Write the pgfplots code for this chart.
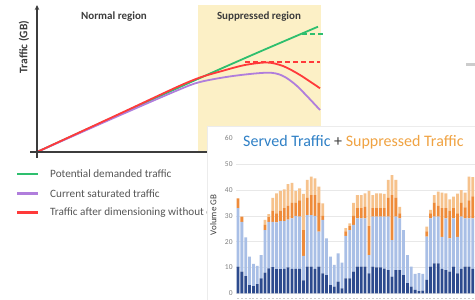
\documentclass[border=0pt]{standalone}
\usepackage{fontspec}
\setmainfont{Carlito}
\usepackage{pgfplots}
\pgfplotsset{compat=1.18}
\usepackage{pgfplotstable}
\usetikzlibrary{arrows.meta}

\definecolor{lgreen}{HTML}{2EBF6E}
\definecolor{lpurple}{HTML}{B07EDC}
\definecolor{lred}{HTML}{FF3A3A}
\definecolor{band}{HTML}{FCF0C6}
\definecolor{dblue}{HTML}{2D4B8E}
\definecolor{lblue}{HTML}{A9BFE6}
\definecolor{dorange}{HTML}{EE8B3A}
\definecolor{lorange}{HTML}{F6C28C}
\definecolor{tblue}{HTML}{2F80C6}
\definecolor{torange}{HTML}{F0A343}
\definecolor{txt}{HTML}{3C3C3C}
\definecolor{legtxt}{HTML}{555555}

\pgfplotstableread{
x db lb dko lo
0 10.3 22.7 3.8 0
1 8.4 19.3 2.0 0
2 6.7 15.0 0 0
3 3.2 11.0 0 0
4 2.8 8.6 0 0
5 3.6 7.0 0 0
6 5.8 9.0 0 0
7 8.0 16.5 2.0 1.9
8 9.7 18.0 1.8 1.2
9 10.1 17.6 4.3 5.0
10 9.4 18.1 3.5 7.7
11 9.4 18.6 4.0 7.7
12 9.5 18.5 5.0 7.3
13 10.0 18.5 5.5 8.3
14 9.5 19.5 6.0 7.8
15 9.5 20.5 5.0 4.7
16 9.5 20.2 6.3 4.6
17 5.0 9.5 10.0 14.0
18 10.3 20.0 6.7 6.9
19 10.3 20.0 7.7 7.2
20 9.5 20.5 8.0 6.5
21 10.3 13.6 11.1 6.3
22 7.7 20.7 1.6 4.8
23 7.0 14.3 0 0
24 3.2 11.0 0 0
25 2.6 8.4 0 0
26 4.5 11.0 0 0
27 1.9 10.0 0 0
28 5.8 16.4 1.8 1.2
29 5.8 18.7 1.5 1.1
30 8.4 18.1 3.5 5.0
31 10.3 18.7 4.0 5.0
32 10.3 18.7 4.0 5.0
33 10.3 18.7 4.5 5.2
34 7.7 7.1 11.2 13.7
35 10.3 19.4 3.3 5.0
36 10.0 19.7 3.3 5.7
37 10.0 19.7 3.3 5.7
38 9.6 20.1 3.3 5.5
39 9.0 20.7 7.3 6.9
40 6.5 14.1 17.4 7.8
41 9.0 20.7 7.3 6.9
42 9.0 20.0 2.0 2.5
43 7.0 17.5 0 0
44 3.9 10.9 0 0
45 2.6 7.7 0 0
46 1.3 6.2 0 0
47 0.8 7.0 0 0
48 1.0 6.5 0 0
49 5.2 16.8 2.0 1.8
50 10.3 18.7 2.0 1.3
51 11.6 18.1 5.3 3.0
52 11.6 18.1 4.3 5.4
53 9.5 12.4 11.1 6.0
54 9.0 20.0 4.0 5.7
55 8.4 12.9 10.7 4.4
56 10.3 18.7 4.0 4.4
57 7.7 14.2 9.1 7.6
58 9.5 20.2 5.3 5.0
59 10.3 18.7 4.3 5.7
60 10.3 18.7 7.0 9.2
61 9.5 19.5 8.5 7.5
}\bars

\begin{document}
\begin{tikzpicture}
\useasboundingbox (0pt,0pt) rectangle (475pt,300pt);
% ---------------- main concept chart ----------------
\begin{axis}[
  at={(30pt,142pt)}, anchor=south west,
  scale only axis, width=307pt, height=153pt,
  xmin=-7, xmax=300, ymin=-6, ymax=147,
  axis lines=middle, axis on top,
  axis line style={line width=1.3pt, color=txt},
  x axis line style={-},
  y axis line style={-{Stealth[length=5pt,width=4.5pt]}},
  ticks=none, clip=false,
]
\fill[band] (axis cs:161,0) rectangle (axis cs:284,147);
\addplot[lgreen, line width=1.8pt, smooth] coordinates {(0,0) (80,36.5) (163,74) (222,100) (281,125.3)};
\addplot[lpurple, line width=1.8pt, smooth] coordinates {(0,0) (80,35.5) (140,61.5) (163,70) (196,76) (230,79.3) (245,76.5) (260,66) (283,42)};
\addplot[lred, line width=1.8pt, smooth] coordinates {(0,0) (80,37) (140,65) (163,74.5) (185,81) (208,87) (230,89.5) (246,86) (263,77) (283,63.7)};
\addplot[lred, line width=1.8pt, dash pattern=on 5pt off 3pt] coordinates {(208,89.7) (283,89.7)};
\addplot[lgreen, line width=1.8pt, dash pattern=on 5pt off 3pt] coordinates {(265,117.7) (288,117.7)};
\end{axis}
\node[font=\fontsize{11}{13}\selectfont\bfseries, text=txt] at (114pt,283pt) {Normal region};
\node[font=\fontsize{11}{13}\selectfont\bfseries, text=txt] at (259pt,283pt) {Suppressed region};
\node[rotate=90, font=\fontsize{11.5}{13}\selectfont\bfseries, text=txt] at (24pt,253pt) {Traffic (GB)};
% legend
\draw[lgreen, line width=2.6pt] (17pt,126pt) -- (38pt,126pt);
\draw[lpurple, line width=2.6pt] (17pt,106.7pt) -- (38pt,106.7pt);
\draw[lred, line width=2.6pt] (17pt,87.3pt) -- (38pt,87.3pt);
\node[anchor=west, inner sep=0pt, font=\fontsize{11.2}{13}\selectfont, text=legtxt] at (50pt,126pt) {Potential demanded traffic};
\node[anchor=west, inner sep=0pt, font=\fontsize{11.2}{13}\selectfont, text=legtxt] at (50pt,106.7pt) {Current saturated traffic};
\node[anchor=west, inner sep=0pt, font=\fontsize{11.2}{13}\selectfont, text=legtxt] at (50pt,87.3pt) {Traffic after dimensioning without capacity};
% fragment at right
\fill[gray!40] (466pt,234pt) rectangle (475pt,237pt);
% ---------------- inset bar chart ----------------
\fill[white] (207pt,0pt) rectangle (475pt,174pt);
\draw[gray!15, line width=0.6pt] (207pt,0pt) -- (207pt,174pt) -- (475pt,174pt);
\begin{axis}[
  at={(236.1pt,6.7pt)}, anchor=south west,
  scale only axis, width=238.9pt, height=154.9pt,
  xmin=-0.5, xmax=61.56, ymin=0, ymax=60,
  ybar stacked, bar width=2.8pt,
  axis line style={draw=none},
  ytick={0,10,...,50}, extra y ticks={60}, extra y tick style={grid=none},
  ymajorgrids, grid style={gray!18, line width=0.6pt},
  major tick length=0pt,
  xtick={0,...,61}, xticklabel={\textcolor{gray!40}{\rule{2pt}{0.7pt}}},
  xticklabel style={yshift=-1pt},
  yticklabel style={font=\fontsize{7.5}{8}\selectfont, text=gray},
  /pgf/number format/assume math mode=true,
  ylabel={Volume GB},
  ylabel style={at={(axis description cs:-0.096,0.505)}, anchor=center, font=\fontsize{9}{10}\selectfont, text=txt},
]
\addplot[fill=dblue, draw=none] table[x=x, y=db]{\bars};
\addplot[fill=lblue, draw=none] table[x=x, y=lb]{\bars};
\addplot[fill=dorange, draw=none] table[x=x, y=dko]{\bars};
\addplot[fill=lorange, draw=none] table[x=x, y=lo]{\bars};
\end{axis}
\node[anchor=base west, inner sep=0pt, font=\fontsize{16}{18}\selectfont] at (243pt,153pt) {\textcolor{tblue}{Served Traffic} \textcolor{txt}{+} \textcolor{torange}{Suppressed Traffic}};
\end{tikzpicture}
\end{document}
